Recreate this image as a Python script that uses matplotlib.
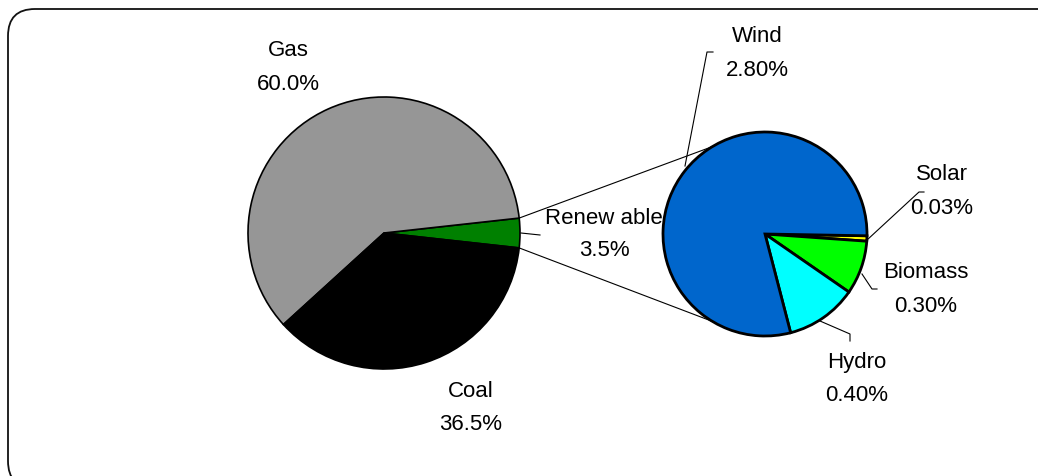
import numpy as np
import matplotlib
matplotlib.use('Agg')
import matplotlib.pyplot as plt
from matplotlib.patches import FancyBboxPatch

# main pie (renewable slice first so it sits centred on the right side)
main_labels = ['Renew able', 'Gas', 'Coal']
main_values = [3.5, 60.0, 36.5]
main_colors = ['#008000', '#969696', '#000000']

# breakdown of the renewable slice (clockwise from the right)
sub_labels = ['Solar', 'Biomass', 'Hydro', 'Wind']
sub_values = [0.03, 0.30, 0.40, 2.80]
sub_colors = ['#FFFF00', '#00FF00', '#00FFFF', '#0066CC']

W, H = 1038, 477
fig = plt.figure(figsize=(W / 100, H / 100), dpi=100)
ax = fig.add_axes([0, 0, 1, 1])

def Y(y):
    # image row -> axes y
    return H - y

plt.rcParams['font.family'] = ['Liberation Sans', 'DejaVu Sans']
FS = 16

# left pie
c1 = (384, Y(234))
r1 = 136
half = main_values[0] / sum(main_values) * 360 / 2
ax.pie(main_values, colors=main_colors, startangle=-half, counterclock=True,
       center=c1, radius=r1, frame=True,
       wedgeprops=dict(edgecolor='black', linewidth=1.2))

# right pie
c2 = (765, Y(235))
r2 = 102
ax.pie(sub_values, colors=sub_colors, startangle=-1, counterclock=False,
       center=c2, radius=r2, frame=True,
       wedgeprops=dict(edgecolor='black', linewidth=2.0))

ax.set_xlim(0, W)
ax.set_ylim(0, H)
ax.set_aspect('auto')
ax.axis('off')

# rounded frame, in pixel (display) coords, running off the right/bottom
frame = FancyBboxPatch((8, -12), 1060, 479,
                       boxstyle='round,pad=0,rounding_size=27',
                       fill=False, edgecolor='#111111', linewidth=1.3,
                       transform=None, zorder=0)
fig.add_artist(frame)

# connector lines between pies
a = np.radians(half)
for s in (1, -1):
    p0 = (c1[0] + r1 * np.cos(a), c1[1] + s * r1 * np.sin(a))
    b = np.radians(s * 121)
    p1 = (c2[0] + r2 * np.cos(b), c2[1] + r2 * np.sin(b))
    ax.plot([p0[0], p1[0]], [p0[1], p1[1]], color='black', linewidth=0.8, zorder=5)

# labels
def label(name, pct, x, y):
    ax.text(x, Y(y), name, ha='center', va='center', fontsize=FS, zorder=6)
    ax.text(x, Y(y + 33), pct, ha='center', va='center', fontsize=FS, zorder=6)

label('Gas', '%.1f%%' % main_values[1], 288, 51)
label('Coal', '%.1f%%' % main_values[2], 471, 392)
label(main_labels[0], '%.1f%%' % main_values[0], 604, 218)

sub_pos = {'Solar': (942, 175), 'Biomass': (926, 273),
           'Hydro': (857, 363), 'Wind': (757, 37)}
for name, v in zip(sub_labels, sub_values):
    x, y = sub_pos[name]
    label(name, '%.2f%%' % v, x, y)

# leader lines
leaders = [
    [(521, 234), (540, 236)],
    [(685, 167), (707, 53), (713, 53)],
    [(867, 241), (919, 193), (924, 193)],
    [(862, 275), (872, 290), (877, 290)],
    [(820, 322), (850, 335), (850, 342)],
]
for pts in leaders:
    xs = [p[0] for p in pts]
    ys = [Y(p[1]) for p in pts]
    ax.plot(xs, ys, color='black', linewidth=0.8, zorder=5)

fig.savefig('out.png', dpi=100)
